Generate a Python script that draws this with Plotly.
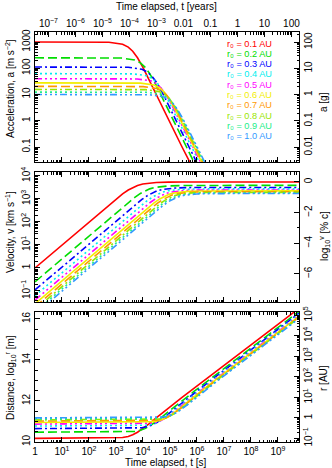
import numpy as np
import plotly.graph_objects as go

# ---------------- data (log10 values) ----------------
r0_labels = ["0.1", "0.2", "0.3", "0.4", "0.5", "0.6", "0.7", "0.8", "0.9", "1.0"]

# log10 time [s]
log_t_01 = [0.000, 2.739, 3.245, 3.454, 3.620, 3.798, 3.993, 4.209, 4.490, 4.941, 5.448, 9.780]
log_t_02 = [0.000, 3.191, 3.697, 3.906, 4.072, 4.250, 4.445, 4.661, 4.942, 5.393, 5.900, 9.780]
log_t_03 = [0.000, 3.455, 3.961, 4.170, 4.336, 4.514, 4.709, 4.925, 5.206, 5.657, 6.164, 9.780]
log_t_04 = [0.000, 3.642, 4.148, 4.357, 4.523, 4.701, 4.896, 5.112, 5.393, 5.844, 6.351, 9.780]
log_t_05 = [0.000, 3.787, 4.293, 4.502, 4.668, 4.846, 5.041, 5.257, 5.538, 5.989, 6.496, 9.780]
log_t_06 = [0.000, 3.906, 4.412, 4.621, 4.787, 4.965, 5.160, 5.376, 5.657, 6.108, 6.615, 9.780]
log_t_07 = [0.000, 4.007, 4.513, 4.722, 4.888, 5.066, 5.261, 5.477, 5.758, 6.209, 6.716, 9.780]
log_t_08 = [0.000, 4.094, 4.600, 4.809, 4.975, 5.153, 5.348, 5.564, 5.845, 6.296, 6.803, 9.780]
log_t_09 = [0.000, 4.170, 4.676, 4.885, 5.051, 5.229, 5.424, 5.640, 5.921, 6.372, 6.879, 9.780]
log_t_10 = [0.000, 4.239, 4.745, 4.954, 5.120, 5.298, 5.493, 5.709, 5.990, 6.441, 6.948, 9.780]

# log10 acceleration [m s^-2]
log_a_01 = [3.000, 2.991, 2.917, 2.806, 2.648, 2.398, 2.046, 1.602, 1.000, 0.046, -1.000, -9.686]
log_a_02 = [2.398, 2.389, 2.315, 2.204, 2.046, 1.796, 1.444, 1.000, 0.398, -0.556, -1.602, -9.384]
log_a_03 = [2.046, 2.037, 1.963, 1.852, 1.694, 1.444, 1.092, 0.648, 0.046, -0.908, -1.954, -9.208]
log_a_04 = [1.796, 1.787, 1.713, 1.602, 1.444, 1.194, 0.842, 0.398, -0.204, -1.158, -2.204, -9.084]
log_a_05 = [1.602, 1.593, 1.519, 1.408, 1.250, 1.000, 0.648, 0.204, -0.398, -1.352, -2.398, -8.988]
log_a_06 = [1.444, 1.435, 1.361, 1.250, 1.092, 0.842, 0.490, 0.046, -0.556, -1.510, -2.556, -8.908]
log_a_07 = [1.310, 1.301, 1.227, 1.116, 0.958, 0.708, 0.356, -0.088, -0.690, -1.644, -2.690, -8.840]
log_a_08 = [1.194, 1.185, 1.111, 1.000, 0.842, 0.592, 0.240, -0.204, -0.806, -1.760, -2.806, -8.782]
log_a_09 = [1.092, 1.083, 1.009, 0.898, 0.740, 0.490, 0.138, -0.306, -0.908, -1.862, -2.908, -8.732]
log_a_10 = [1.000, 0.991, 0.917, 0.806, 0.648, 0.398, 0.046, -0.398, -1.000, -1.954, -3.000, -8.686]

# log10 velocity [km s^-1]
log_v_01 = [0.000, 2.736, 3.217, 3.388, 3.499, 3.587, 3.650, 3.689, 3.715, 3.731, 3.736, 3.738]
log_v_02 = [-0.602, 2.586, 3.067, 3.238, 3.349, 3.437, 3.500, 3.539, 3.565, 3.581, 3.586, 3.588]
log_v_03 = [-0.954, 2.497, 2.978, 3.149, 3.260, 3.348, 3.411, 3.450, 3.476, 3.492, 3.497, 3.499]
log_v_04 = [-1.204, 2.435, 2.916, 3.087, 3.198, 3.286, 3.349, 3.388, 3.414, 3.430, 3.435, 3.437]
log_v_05 = [-1.398, 2.386, 2.867, 3.038, 3.149, 3.237, 3.300, 3.339, 3.365, 3.381, 3.386, 3.388]
log_v_06 = [-1.556, 2.347, 2.828, 2.999, 3.110, 3.198, 3.261, 3.300, 3.326, 3.342, 3.347, 3.349]
log_v_07 = [-1.690, 2.313, 2.794, 2.965, 3.076, 3.164, 3.227, 3.266, 3.292, 3.308, 3.313, 3.315]
log_v_08 = [-1.806, 2.284, 2.765, 2.936, 3.047, 3.135, 3.198, 3.237, 3.263, 3.279, 3.284, 3.286]
log_v_09 = [-1.908, 2.259, 2.740, 2.911, 3.022, 3.110, 3.173, 3.212, 3.238, 3.254, 3.259, 3.261]
log_v_10 = [-2.000, 2.236, 2.717, 2.888, 2.999, 3.087, 3.150, 3.189, 3.215, 3.231, 3.236, 3.238]

# log10 distance [m]
log_r_01 = [10.175, 10.179, 10.216, 10.272, 10.351, 10.476, 10.652, 10.874, 11.175, 11.652, 12.175, 16.518]
log_r_02 = [10.476, 10.480, 10.517, 10.573, 10.652, 10.777, 10.953, 11.175, 11.476, 11.953, 12.476, 16.367]
log_r_03 = [10.652, 10.656, 10.693, 10.749, 10.828, 10.953, 11.129, 11.351, 11.652, 12.129, 12.652, 16.279]
log_r_04 = [10.777, 10.781, 10.818, 10.874, 10.953, 11.078, 11.254, 11.476, 11.777, 12.254, 12.777, 16.217]
log_r_05 = [10.874, 10.878, 10.915, 10.971, 11.050, 11.175, 11.351, 11.573, 11.874, 12.351, 12.874, 16.169]
log_r_06 = [10.953, 10.957, 10.994, 11.050, 11.129, 11.254, 11.430, 11.652, 11.953, 12.430, 12.953, 16.129]
log_r_07 = [11.020, 11.024, 11.061, 11.117, 11.196, 11.321, 11.497, 11.719, 12.020, 12.497, 13.020, 16.095]
log_r_08 = [11.078, 11.082, 11.119, 11.175, 11.254, 11.379, 11.555, 11.777, 12.078, 12.555, 13.078, 16.066]
log_r_09 = [11.129, 11.133, 11.170, 11.226, 11.305, 11.430, 11.606, 11.828, 12.129, 12.606, 13.129, 16.041]
log_r_10 = [11.175, 11.179, 11.216, 11.272, 11.351, 11.476, 11.652, 11.874, 12.175, 12.652, 13.175, 16.018]

# tick labels
sec_tick_vals = [0, 1, 2, 3, 4, 5, 6, 7, 8, 9]
sec_tick_text = ["1"] + ["10<sup>%d</sup>" % n for n in range(1, 10)]
yr_tick_vals = [-7, -6, -5, -4, -3, -2, -1, 0, 1, 2]
yr_tick_text = ["10<sup>−7</sup>", "10<sup>−6</sup>", "10<sup>−5</sup>", "10<sup>−4</sup>",
                "10<sup>−3</sup>", "0.01", "0.1", "1", "10", "100"]
acc_tick_vals = [-1, 0, 1, 2, 3]
acc_tick_text = ["0.1", "1", "10", "100", "1000"]
g_tick_vals = [-2, -1, 0, 1, 2]
g_tick_text = ["0.01", "0.1", "1", "10", "100"]
vel_tick_vals = [-1, 0, 1, 2, 3, 4]
vel_tick_text = ["10<sup>−1</sup>", "1", "10<sup>1</sup>", "10<sup>2</sup>", "10<sup>3</sup>", "10<sup>4</sup>"]
pc_tick_vals = [0, -2, -4, -6]
pc_tick_text = ["0", "−2", "−4", "−6"]
dist_tick_vals = [10, 12, 14, 16]
dist_tick_text = ["10", "12", "14", "16"]
au_tick_vals = [-1, 0, 1, 2, 3, 4, 5]
au_tick_text = ["10<sup>−1</sup>", "1", "10<sup>1</sup>", "10<sup>2</sup>", "10<sup>3</sup>", "10<sup>4</sup>", "10<sup>5</sup>"]

series_t = [log_t_01, log_t_02, log_t_03, log_t_04, log_t_05, log_t_06, log_t_07, log_t_08, log_t_09, log_t_10]
series_a = [log_a_01, log_a_02, log_a_03, log_a_04, log_a_05, log_a_06, log_a_07, log_a_08, log_a_09, log_a_10]
series_v = [log_v_01, log_v_02, log_v_03, log_v_04, log_v_05, log_v_06, log_v_07, log_v_08, log_v_09, log_v_10]
series_r = [log_r_01, log_r_02, log_r_03, log_r_04, log_r_05, log_r_06, log_r_07, log_r_08, log_r_09, log_r_10]

# ---------------- styling ----------------
colors = ["#ff0000", "#00dd00", "#0000ff", "#00eeee", "#ff00ff",
          "#f2ee00", "#ff9900", "#99e600", "#22ee88", "#3399ff"]
DASH = "9px,4px"
DASHDOT = "7px,3px,2px,3px"
DOT = "2px,3px"
DASH3DOT = "7px,3px,2px,3px,2px,3px,2px,3px"
dashes = ["solid", DASH, DASHDOT, DOT, DASH3DOT] * 2

W, H = 332, 468
ML, MR, MT, MB = 35, 33, 32, 26
PW, PH = W - ML - MR, H - MT - MB
FONT = "Liberation Sans, Arial, Helvetica, sans-serif"


def px_x(x):
    return (x - ML) / PW


def px_y(y):
    return (H - MB - y) / PH


dom_top = [px_y(162), 1.0]
dom_mid = [px_y(302), px_y(172)]
dom_bot = [0.0, px_y(312)]

log_minor = [n + np.log10(m) for n in range(-10, 19) for m in range(2, 10)]

fig = go.Figure()
for vals, xa, ya in [(series_a, "x3", "y"), (series_v, "x2", "y3"), (series_r, "x", "y5")]:
    for i in range(10):
        fig.add_trace(go.Scatter(
            x=series_t[i], y=vals[i], mode="lines",
            line=dict(color=colors[i], width=1.6, dash=dashes[i]),
            xaxis=xa, yaxis=ya, showlegend=False, hoverinfo="skip"))
for xa, ya in [("x3", "y2"), ("x2", "y4"), ("x", "y6"), ("x4", "y")]:
    fig.add_trace(go.Scatter(x=[], y=[], xaxis=xa, yaxis=ya, showlegend=False, hoverinfo="skip"))


def ax(minor_vals=None, minor_dtick=None, **kw):
    d = dict(showline=True, linecolor="black", linewidth=1, ticks="inside", ticklen=5,
             tickwidth=1, tickcolor="black", showgrid=False, zeroline=False,
             automargin=False, fixedrange=True, tickmode="array",
             tickfont=dict(size=10, color="black", family=FONT))
    if minor_vals is not None:
        d["minor"] = dict(tickmode="array", tickvals=minor_vals, ticks="inside", ticklen=2.5,
                          tickwidth=1, tickcolor="black", showgrid=False)
    if minor_dtick is not None:
        d["minor"] = dict(dtick=minor_dtick, ticks="inside", ticklen=2.5,
                          tickwidth=1, tickcolor="black", showgrid=False)
    d.update(kw)
    return d


XR = [0, 9.78]
YR_OFF = 7.499  # log10(seconds per year)
G_OFF = 0.9917  # log10(9.81)
AU_OFF = 11.175  # log10(1 AU in m)

fig.update_layout(
    width=W, height=H, template="none",
    margin=dict(l=ML, r=MR, t=MT, b=MB, pad=0),
    paper_bgcolor="white", plot_bgcolor="white",
    font=dict(family=FONT, size=10, color="black"),
    showlegend=False,
    xaxis=ax(log_minor, domain=[0, 1], anchor="y5", range=XR, mirror="ticks",
             tickvals=sec_tick_vals, ticktext=sec_tick_text),
    xaxis2=ax(log_minor, domain=[0, 1], anchor="y3", range=XR, mirror="ticks",
              tickvals=sec_tick_vals, showticklabels=False),
    xaxis3=ax(log_minor, domain=[0, 1], anchor="y", range=XR, mirror=False,
              tickvals=sec_tick_vals, showticklabels=False),
    xaxis4=ax(log_minor, overlaying="x3", anchor="y", side="top",
              range=[XR[0] - YR_OFF, XR[1] - YR_OFF],
              tickvals=yr_tick_vals, ticktext=yr_tick_text),
    yaxis=ax(log_minor, domain=dom_top, anchor="x3", range=[-1.571, 3.381],
             tickvals=acc_tick_vals, ticktext=acc_tick_text, tickangle=-90),
    yaxis2=ax(log_minor, overlaying="y", anchor="x3", side="right",
              range=[-1.571 - G_OFF, 3.381 - G_OFF],
              tickvals=g_tick_vals, ticktext=g_tick_text, tickangle=-90),
    yaxis3=ax(log_minor, domain=dom_mid, anchor="x2", range=[-1.48, 4.17],
              tickvals=vel_tick_vals, ticktext=vel_tick_text, tickangle=-90),
    yaxis4=ax(None, 1, overlaying="y3", anchor="x2", side="right", range=[-7.84, 0.65],
              tickvals=pc_tick_vals, ticktext=pc_tick_text, tickangle=-90),
    yaxis5=ax(None, 0.5, domain=dom_bot, anchor="x", range=[10, 16.34],
              tickvals=dist_tick_vals, ticktext=dist_tick_text, tickangle=-90),
    yaxis6=ax(log_minor, overlaying="y5", anchor="x", side="right",
              range=[10 - AU_OFF, 16.34 - AU_OFF],
              tickvals=au_tick_vals, ticktext=au_tick_text, tickangle=-90),
)

ann = []


def title(text, x, y, angle=0):
    ann.append(dict(text=text, x=px_x(x), y=px_y(y), xref="paper", yref="paper",
                    showarrow=False, textangle=angle, xanchor="center", yanchor="middle",
                    font=dict(size=10, family=FONT, color="black")))


title("Time elapsed, t [years]", 166, 7)
title("Time elapsed, t [s]", 166, 462)
title("Acceleration, a [m s<sup>−2</sup>]", 10, 89, -90)
title("Velocity, v [km s<sup>−1</sup>]", 10, 232, -90)
title("Distance, log<sub>10</sub><sup>r</sup> [m]", 10, 378, -90)
title("a [g]", 323, 102, -90)
title("log<sub>10</sub><sup>v</sup> [% c]", 324, 236, -90)
title("r [AU]", 323, 378, -90)

for i, lab in enumerate(r0_labels):
    ann.append(dict(text="r₀ = %s AU" % lab, x=px_x(226), y=px_y(43.5 + 10.3 * i),
                    xref="paper", yref="paper", showarrow=False, xanchor="left",
                    yanchor="middle", borderpad=0,
                    font=dict(size=9.2, family=FONT, color=colors[i])))

fig.update_layout(annotations=ann)

fig.write_html("out.html", config={"displayModeBar": False},
               post_script="document.body.style.margin='0';document.body.style.padding='0';")
